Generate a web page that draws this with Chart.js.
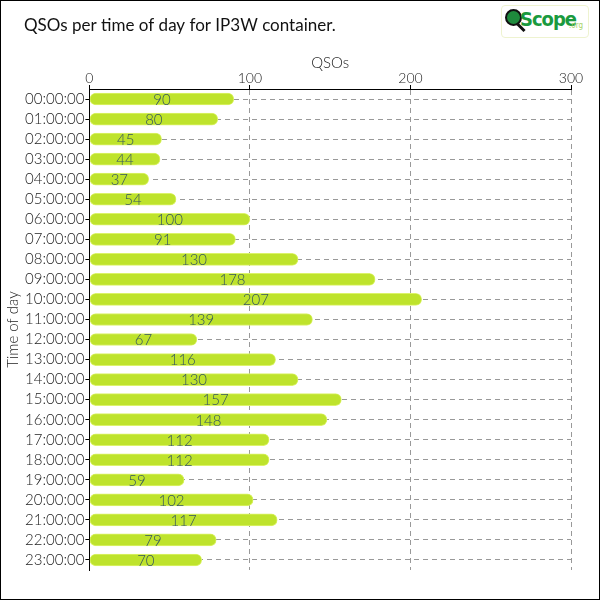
<!DOCTYPE html>
<html>
<head>
<meta charset="utf-8">
<script src="https://cdn.jsdelivr.net/npm/chart.js@4"></script>
<style>
  body { margin: 0; background: #fff; }
  #wrap { position: relative; width: 600px; height: 600px; }
  #logo {
    position: absolute; left: 501px; top: 5px; width: 86px; height: 31px;
    border: 1px solid #eef3d0; border-radius: 4px; background: #fff;
    font-family: "DejaVu Sans Condensed", "DejaVu Sans", sans-serif;
  }
  #logo .glass {
    position: absolute; left: 3px; top: 3px; width: 13px; height: 13px;
    border-radius: 50%; background: #1e8a3c; border: 2px solid #111;
  }
  #logo .handle {
    position: absolute; left: 14px; top: 20px; width: 10px; height: 3px;
    background: #111; transform: rotate(45deg);
  }
  #logo .name {
    position: absolute; left: 18px; top: 1px; font-size: 20px; font-weight: bold;
    color: #1a9a3e; letter-spacing: -1px;
  }
  #logo .org {
    position: absolute; left: 67px; top: 15px; font-size: 8px; color: #a8d46a;
  }
</style>
</head>
<body>
<div id="wrap">
  <canvas id="myChartQsos" width="600" height="600"></canvas>
  <div id="logo"><div class="glass"></div><div class="handle"></div><span class="name">Scope</span><span class="org">.org</span></div>
</div>
<script>
// Categories and values
const hours = [
  "00:00:00", "01:00:00", "02:00:00", "03:00:00", "04:00:00", "05:00:00",
  "06:00:00", "07:00:00", "08:00:00", "09:00:00", "10:00:00", "11:00:00",
  "12:00:00", "13:00:00", "14:00:00", "15:00:00", "16:00:00", "17:00:00",
  "18:00:00", "19:00:00", "20:00:00", "21:00:00", "22:00:00", "23:00:00",
];
const qsoCounts = [
  90, 80, 45, 44, 37, 54, 100, 91, 130, 178, 207, 139,
  67, 116, 130, 157, 148, 112, 112, 59, 102, 117, 79, 70,
];
const qsoTicks = [0, 100, 200, 300];

const fontName = "Lato, 'DejaVu Sans', sans-serif";

// Title, frame and value labels
const decorations = {
  id: "decorations",
  afterDatasetsDraw(chart) {
    const ctx = chart.ctx;
    const meta = chart.getDatasetMeta(0);
    ctx.save();
    ctx.font = "300 15px " + fontName;
    ctx.fillStyle = "#345560";
    ctx.textAlign = "center";
    ctx.textBaseline = "middle";
    meta.data.forEach((bar, i) => {
      ctx.fillText(String(qsoCounts[i]), (bar.x + bar.base) / 2, bar.y + 1);
    });
    ctx.restore();
  },
  afterDraw(chart) {
    const ctx = chart.ctx;
    ctx.save();
    ctx.font = "17px " + fontName;
    ctx.fillStyle = "#111";
    ctx.textBaseline = "middle";
    ctx.fillText("QSOs per time of day for IP3W container.", 24, 26);
    ctx.strokeStyle = "#000";
    ctx.lineWidth = 1;
    ctx.strokeRect(0.5, 0.5, 599, 599);
    ctx.restore();
  },
};

const ctx = document.getElementById("myChartQsos").getContext("2d");
new Chart(ctx, {
  type: "bar",
  data: {
    labels: hours,
    datasets: [
      {
        label: "QSOs",
        data: qsoCounts,
        backgroundColor: "#bee32c",
        borderColor: "#dcf36a",
        borderWidth: 1,
        borderRadius: 6,
        borderSkipped: false,
        barThickness: 12,
      },
    ],
  },
  options: {
    indexAxis: "y",
    responsive: false,
    animation: false,
    layout: { padding: { top: 56, right: 29, bottom: 30, left: 4 } },
    plugins: {
      legend: { display: false },
      tooltip: { enabled: false },
    },
    scales: {
      x: {
        position: "top",
        min: 0,
        max: 300,
        afterBuildTicks: (axis) => {
          axis.ticks = qsoTicks.map((v) => ({ value: v }));
        },
        title: {
          display: true,
          text: "QSOs",
          color: "#222",
          font: { family: fontName, size: 15, weight: 300, lineHeight: 1 },
          padding: { top: 0, bottom: 0 },
        },
        ticks: {
          color: "#222",
          font: { family: fontName, size: 14, weight: 300, lineHeight: 1 },
          padding: 0,
        },
        grid: {
          color: "#999",
          tickColor: "#000",
          tickLength: 4,
        },
        border: { color: "#000", width: 1, dash: [5, 4] },
      },
      y: {
        ticks: {
          color: "#222",
          font: { family: fontName, size: 15, weight: 300 },
          padding: 1,
          autoSkip: false,
        },
        title: {
          display: true,
          text: "Time of day",
          color: "#222",
          font: { family: fontName, size: 15, weight: 300 },
          padding: { top: 0, bottom: 2 },
        },
        grid: {
          offset: false,
          color: "#999",
          tickColor: "#000",
          tickLength: 4,
        },
        border: { color: "#000", width: 1, dash: [5, 4] },
      },
    },
  },
  plugins: [decorations],
});
</script>
</body>
</html>
